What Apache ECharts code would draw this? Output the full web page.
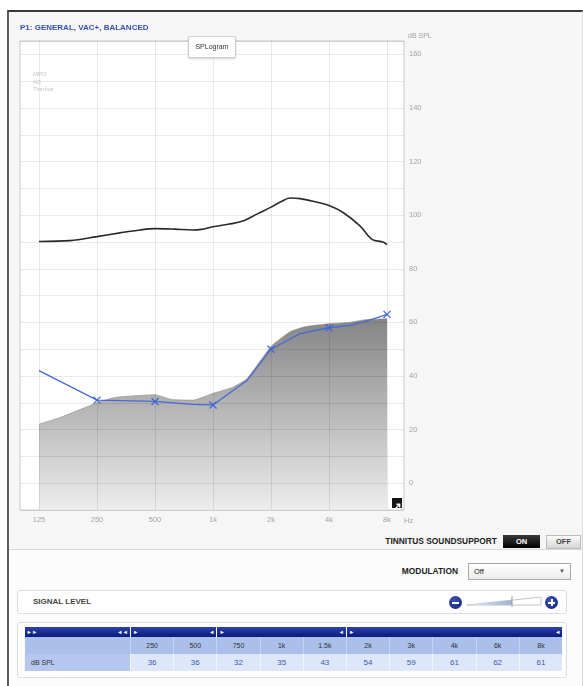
<!DOCTYPE html>
<html><head><meta charset="utf-8">
<script src="https://cdn.jsdelivr.net/npm/echarts@6/dist/echarts.min.js"></script>
<style>
html,body{margin:0;padding:0;background:#fff;}
#root{position:relative;width:583px;height:686px;overflow:hidden;font-family:"Liberation Sans",Arial,sans-serif;}
#panel{position:absolute;left:7px;top:10px;width:576px;height:676px;background:#f6f6f6;border-top:2px solid #3a3a3a;border-left:2px solid #5e5e5e;border-right:1px solid #dadada;box-sizing:border-box;}
#lower{position:absolute;left:9px;top:549px;width:573px;height:137px;background:#fcfcfc;border-top:1px solid #dadada;}
#chart{position:absolute;left:0;top:0;width:583px;height:530px;}
.abs{position:absolute;}
#tab{left:188px;top:36px;width:46px;height:20px;background:#fff;border:1px solid #cfcfcf;border-radius:2px;box-shadow:0 1px 2px rgba(0,0,0,.18);font-size:7px;color:#333;text-align:center;line-height:20px;z-index:5;}
#icon{left:392px;top:498px;width:10px;height:10px;background:#151515;z-index:5;}
.lbl{font-weight:bold;color:#222;font-size:8.4px;white-space:nowrap;}
#onb{left:503px;top:535px;width:37px;height:13px;background:linear-gradient(#3a3a3a,#000);color:#fff;font-weight:bold;font-size:7.5px;text-align:center;line-height:13px;}
#offb{left:546px;top:535px;width:33px;height:12px;background:linear-gradient(#fbfbfb,#d6d6d6);border:1px solid #bdbdbd;color:#444;font-weight:bold;font-size:7.5px;text-align:center;line-height:12px;}
#dd{left:468px;top:563px;width:101px;height:15px;background:linear-gradient(#fff,#ececec);border:1px solid #a9a9a9;font-size:7.5px;color:#222;line-height:15px;}
.box{background:#fff;border:1px solid #dcdcdc;border-radius:3px;box-sizing:border-box;}
.circ{width:13px;height:13px;border-radius:50%;background:radial-gradient(circle at 40% 35%,#3d55b8,#0e1f72);}
.circ i{position:absolute;left:3px;top:5.5px;width:7px;height:2px;background:#fff;}
.circ b{position:absolute;left:5.5px;top:3px;width:2px;height:7px;background:#fff;}
table{border-collapse:collapse;table-layout:fixed;}
td{padding:0;overflow:hidden;white-space:nowrap;}
.hd td{height:10px;background:linear-gradient(#2c42ad,#0b1b7a);color:#fff;font-size:5.5px;line-height:10px;border-left:1px solid #fff;}
.hd td:first-child{border-left:none;}
.hd span.r{float:right;margin-right:2px;}
.hd span.l{margin-left:2px;}
.fr td{height:17px;background:#aac0ea;color:#333;font-size:7px;text-align:center;border-left:1px solid #c3d2f1;}
.vr td{height:17px;background:#dde7f9;color:#3b5bb0;font-size:8px;text-align:center;border-left:1px solid #eef3fc;}
.vr td.first{background:#b5c7ef;color:#333;font-size:7px;text-align:left;padding-left:6px;}
</style>
</head>
<body>
<div id="root">
  <div id="panel"></div>
  <div id="lower"></div>
  <div id="chart"></div>
  <div id="tab" class="abs">SPLogram</div>
  <div id="icon" class="abs"><svg width="10" height="10" viewBox="0 0 10 10"><path d="M2,8 L7.5,2.5 M4.5,2.3 L7.7,2.3 L7.7,5.5" stroke="#fff" stroke-width="1.4" fill="none"/></svg></div>
  <div class="abs lbl" style="right:86px;top:536px;">TINNITUS SOUNDSUPPORT</div>
  <div id="onb" class="abs">ON</div>
  <div id="offb" class="abs">OFF</div>
  <div class="abs lbl" style="right:125px;top:566px;">MODULATION</div>
  <div id="dd" class="abs"><span style="margin-left:5px;">Off</span><span style="position:absolute;right:5px;top:0;font-size:6px;color:#555;">&#9660;</span></div>
  <div class="abs box" style="left:17px;top:590px;width:550px;height:24px;"></div>
  <div class="abs lbl" style="left:33px;top:597px;font-size:8px;color:#444;">SIGNAL LEVEL</div>
  <div class="abs circ" style="left:449px;top:596px;"><i></i></div>
  <svg class="abs" style="left:466px;top:595px;" width="78" height="13" viewBox="0 0 78 13">
    <defs><linearGradient id="sg" x1="0" x2="1" y1="0" y2="0"><stop offset="0" stop-color="#e6ecf8"/><stop offset="1" stop-color="#9fb0d6"/></linearGradient></defs>
    <polygon points="1,10 75,2 75,10" fill="#fff" stroke="#b5b5b5" stroke-width="0.8"/>
    <polygon points="1,10 46,5.1 46,10" fill="url(#sg)"/>
    <line x1="46" y1="1" x2="46" y2="12" stroke="#9a9a9a" stroke-width="1"/>
  </svg>
  <div class="abs circ" style="left:545px;top:596px;"><i></i><b></b></div>
  <div class="abs box" style="left:17px;top:622px;width:550px;height:56px;"></div>
  <table class="abs" id="tbl" style="left:24px;top:627px;width:538px;"></table>
</div>
<script>
// ---- data ----
const freqTicks = [125, 250, 500, 1000, 2000, 4000, 8000];
const freqTickLabels = ['125', '250', '500', '1k', '2k', '4k', '8k'];
const xMinHz = 99.6;
const xMaxHz = 9800;
const dbTickLabels = [0, 20, 40, 60, 80, 100, 120, 140, 160];

const mpoFreq = [125, 181, 250, 329, 418, 500, 635, 780, 870, 1000, 1200, 1431, 1700, 2000, 2250, 2510, 2830, 3385, 4000, 4730, 5790, 6690, 7630, 8000];
const mpoDb   = [90.2, 90.5, 92, 93.4, 94.5, 95, 94.8, 94.5, 94.7, 95.7, 96.6, 97.8, 100.5, 103, 105, 106.4, 106.2, 105, 103.6, 101, 96, 91, 90, 89];

const acFreq   = [125, 250, 500, 788, 1000, 1500, 2000, 2830, 4000, 5140, 6150, 8000];
const acDb     = [42, 31, 30.5, 29.4, 29.2, 38.3, 50, 55.8, 58, 58.9, 60.3, 63];
const acMarked = [false, true, true, false, true, false, true, false, true, false, false, true];

const tinFreq = [125, 161, 250, 310, 500, 613, 788, 1000, 1255, 1500, 2000, 2510, 3000, 4000, 5140, 6150, 8000];
const tinDb   = [22, 24.5, 30, 32, 33, 31.2, 31, 33.5, 35.7, 39, 51, 56.5, 58.4, 59.5, 60, 61, 61.4];

const tableFreqLabels = ['250', '500', '750', '1k', '1.5k', '2k', '3k', '4k', '6k', '8k'];
const tableDbSpl      = [36, 36, 32, 35, 43, 54, 59, 61, 62, 61];
const tableGroups     = [2, 3, 5];

// ---- table ----
(function(){
  const t = document.getElementById('tbl');
  let html = '<colgroup><col style="width:106px">' + tableFreqLabels.map(()=>'<col style="width:43.2px">').join('') + '</colgroup>';
  html += '<tr class="hd"><td><span class="l">&#9658;&#9658;</span><span class="r">&#9668;&#9668;</span></td>' +
    tableGroups.map(n=>'<td colspan="'+n+'"><span class="l">&#9658;</span><span class="r">&#9668;</span></td>').join('') + '</tr>';
  html += '<tr class="fr"><td style="border-left:none"></td>' + tableFreqLabels.map(l=>'<td>'+l+'</td>').join('') + '</tr>';
  html += '<tr class="vr"><td class="first">dB SPL</td>' + tableDbSpl.map(v=>'<td>'+v+'</td>').join('') + '</tr>';
  t.innerHTML = html;
})();

// ---- chart ----
const oct = f => Math.log2(f / 125);
const chart = echarts.init(document.getElementById('chart'));
const crossPath = 'path://M0,0L10,10M10,0L0,10';
const blue = '#4569d8';
chart.setOption({
  animation: false,
  title: {
    text: 'P1: GENERAL, VAC+, BALANCED', left: 15, top: 19,
    textStyle: { fontSize: 8, fontWeight: 'bold', color: '#3452b4', fontFamily: 'Liberation Sans' }
  },
  legend: {
    orient: 'vertical', left: 22, top: 66, itemWidth: 0, itemHeight: 0, itemGap: 0,
    selectedMode: false, icon: 'rect',
    textStyle: { color: '#c4c4c4', fontSize: 6, fontFamily: 'Liberation Sans', lineHeight: 7.5 },
    data: ['MPO', 'AC', 'Tinnitus']
  },
  grid: { left: 20, top: 41, width: 384, height: 469, show: true, backgroundColor: '#fff', borderColor: '#c9c9c9', borderWidth: 1 },
  xAxis: {
    type: 'value', min: oct(xMinHz), max: oct(xMaxHz),
    axisLabel: { show: false }, axisTick: { show: false }, axisLine: { show: false }, splitLine: { show: false }
  },
  yAxis: {
    type: 'value', position: 'right', min: -10, max: 165, interval: 10, z: 1.5,
    axisLine: { show: false }, axisTick: { show: false },
    splitLine: { lineStyle: { color: 'rgba(0,0,0,0.085)', width: 1 } },
    axisLabel: {
      margin: 5, color: '#a3a3a3', fontSize: 7.5, fontFamily: 'Liberation Sans',
      formatter: v => dbTickLabels.indexOf(v) >= 0 ? String(v) : ''
    }
  },
  graphic: [
    { type: 'text', left: 408, top: 33, style: { text: 'dB SPL', fill: '#a3a3a3', fontSize: 7, fontFamily: 'Liberation Sans' } },
    { type: 'text', left: 404, top: 517, style: { text: 'Hz', fill: '#a3a3a3', fontSize: 7.5, fontFamily: 'Liberation Sans' } }
  ],
  series: [
    {
      name: 'Tinnitus', type: 'line', z: 1, smooth: 0.15, symbol: 'none', silent: true,
      lineStyle: { width: 0.6, color: '#8a8a8a' },
      areaStyle: {
        origin: 'start', opacity: 1,
        color: new echarts.graphic.LinearGradient(0, 0, 0, 1, [
          { offset: 0, color: '#858585' }, { offset: 1, color: '#ededed' }
        ])
      },
      data: tinFreq.map((f, i) => [oct(f), tinDb[i]])
    },
    {
      name: 'gridX', type: 'line', z: 1.5, data: [], silent: true,
      markLine: {
        silent: true, symbol: ['none', 'none'], animation: false,
        lineStyle: { color: 'rgba(0,0,0,0.085)', width: 1, type: 'solid' },
        label: { show: true, position: 'start', distance: 6, formatter: p => p.name, color: '#a3a3a3', fontSize: 7.5, fontFamily: 'Liberation Sans' },
        emphasis: { disabled: true },
        data: freqTicks.map((f, i) => ({ xAxis: oct(f), name: freqTickLabels[i] }))
      }
    },
    {
      name: 'MPO', type: 'line', z: 3, smooth: 0.35, symbol: 'none', silent: true,
      lineStyle: { color: '#2a2a2a', width: 1.6 },
      data: mpoFreq.map((f, i) => [oct(f), mpoDb[i]])
    },
    {
      name: 'AC', type: 'line', z: 4, silent: true, symbolSize: 7,
      itemStyle: { color: 'rgba(0,0,0,0)', borderColor: blue, borderWidth: 1.3 },
      lineStyle: { color: blue, width: 1.3 },
      data: acFreq.map((f, i) => ({ value: [oct(f), acDb[i]], symbol: acMarked[i] ? crossPath : 'none' }))
    }
  ]
});
</script>
</body></html>
